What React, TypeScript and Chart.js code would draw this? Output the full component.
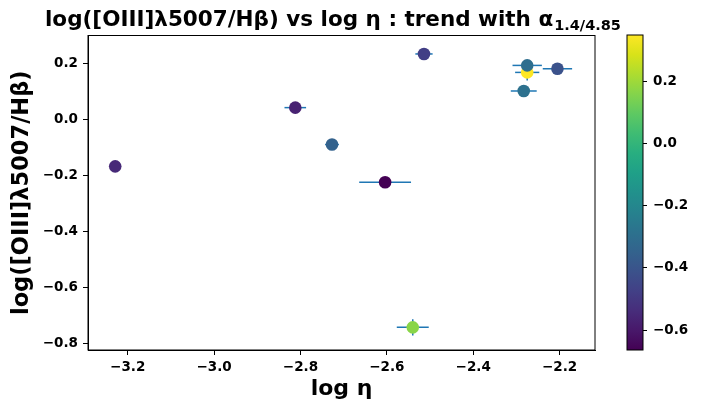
import React, { useEffect, useRef } from "react";
import { Chart, registerables } from "chart.js";
Chart.register(...registerables);

// ---- data ----
const logEta = [-3.229, -2.812, -2.727, -2.514, -2.604, -2.275, -2.275, -2.205, -2.283, -2.540];
const logOIIIHb = [-0.167, 0.043, -0.089, 0.235, -0.224, 0.169, 0.194, 0.182, 0.1025, -0.743];
const logEtaErr = [0.0, 0.025, 0.016, 0.02, 0.06, 0.028, 0.034, 0.034, 0.03, 0.037];
const logOIIIHbErr = [0.0, 0.0, 0.0, 0.0, 0.0, 0.029, 0.0, 0.0, 0.018, 0.029];
const alphaSpec = [-0.55, -0.57, -0.35, -0.48, -0.664, 0.348, -0.30, -0.41, -0.29, 0.166];

const xTicks = [-3.2, -3.0, -2.8, -2.6, -2.4, -2.2];
const yTicks = [-0.8, -0.6, -0.4, -0.2, 0.0, 0.2];
const cbarTicks = [-0.6, -0.4, -0.2, 0.0, 0.2];

const titleMain = "log([OIII]λ5007/Hβ) vs log η : trend with α";
const titleSub = "1.4/4.85";
const xTitle = "log η";
const yTitle = "log([OIII]λ5007/Hβ)";

const viridisStops = [
  "#440154", "#48186a", "#472d7b", "#424086", "#3b528b", "#33638d", "#2c728e", "#26828e",
  "#21918c", "#1fa088", "#28ae80", "#3fbc73", "#5ec962", "#84d44b", "#addc30", "#d8e219", "#fde725",
];

const cMin = Math.min(...alphaSpec);
const cMax = Math.max(...alphaSpec);

function hexToRgb(h: string) {
  return [parseInt(h.slice(1, 3), 16), parseInt(h.slice(3, 5), 16), parseInt(h.slice(5, 7), 16)];
}
function viridis(t: number) {
  t = Math.max(0, Math.min(1, t));
  const p = t * (viridisStops.length - 1);
  const i = Math.min(Math.floor(p), viridisStops.length - 2);
  const f = p - i;
  const a = hexToRgb(viridisStops[i]);
  const b = hexToRgb(viridisStops[i + 1]);
  const c = a.map((v, k) => Math.round(v + (b[k] - v) * f));
  return `rgb(${c[0]},${c[1]},${c[2]})`;
}
const fmt = (v: number) => (v < -1e-9 ? "\u2212" : "") + Math.abs(v).toFixed(1);

const FONT = "DejaVu Sans";

export default function App() {
  const mainRef = useRef<HTMLCanvasElement>(null);
  const cbRef = useRef<HTMLCanvasElement>(null);

  useEffect(() => {
    Chart.defaults.font.family = FONT;
    Chart.defaults.color = "#000";

    const errPlugin = {
      id: "errbars",
      beforeDatasetsDraw(chart: any) {
        const { ctx, scales } = chart;
        const xs = scales.x, ys = scales.y;
        ctx.save();
        ctx.strokeStyle = "#1f77b4";
        ctx.lineWidth = 1.5;
        for (let i = 0; i < logEta.length; i++) {
          const px = xs.getPixelForValue(logEta[i]);
          const py = ys.getPixelForValue(logOIIIHb[i]);
          if (logEtaErr[i] > 0) {
            ctx.beginPath();
            ctx.moveTo(xs.getPixelForValue(logEta[i] - logEtaErr[i]), py);
            ctx.lineTo(xs.getPixelForValue(logEta[i] + logEtaErr[i]), py);
            ctx.stroke();
          }
          if (logOIIIHbErr[i] > 0) {
            ctx.beginPath();
            ctx.moveTo(px, ys.getPixelForValue(logOIIIHb[i] - logOIIIHbErr[i]));
            ctx.lineTo(px, ys.getPixelForValue(logOIIIHb[i] + logOIIIHbErr[i]));
            ctx.stroke();
          }
        }
        ctx.restore();
      },
      afterDraw(chart: any) {
        const { ctx, chartArea: a } = chart;
        ctx.save();
        ctx.strokeStyle = "#000";
        ctx.lineWidth = 1;
        ctx.strokeRect(a.left, a.top, a.right - a.left, a.bottom - a.top);
        // title with subscript
        ctx.fillStyle = "#000";
        ctx.textBaseline = "alphabetic";
        ctx.textAlign = "left";
        ctx.font = `bold 21.5px "${FONT}"`;
        const w = ctx.measureText(titleMain).width;
        const x0 = 45;
        ctx.fillText(titleMain, x0, 26);
        ctx.font = `bold 14.5px "${FONT}"`;
        ctx.fillText(titleSub, x0 + w + 1, 30);
        ctx.restore();
      },
    };

    const main = new Chart(mainRef.current!, {
      type: "scatter",
      data: {
        datasets: [
          {
            data: logEta.map((x, i) => ({ x, y: logOIIIHb[i] })),
            pointBackgroundColor: alphaSpec.map((c) => viridis((c - cMin) / (cMax - cMin))),
            pointBorderWidth: 0,
            pointRadius: 6.3,
            pointHoverRadius: 6.3,
          },
        ],
      },
      options: {
        responsive: false,
        animation: false,
        events: [],
        layout: { padding: { top: 35.5, left: 0, right: 120, bottom: 0 } },
        plugins: { legend: { display: false }, tooltip: { enabled: false }, title: { display: false } },
        scales: {
          x: {
            type: "linear",
            min: -3.292,
            max: -2.118,
            afterBuildTicks: (s: any) => { s.ticks = xTicks.map((v) => ({ value: v })); },
            afterFit: (s: any) => { s.height = 403 - 350; },
            grid: { drawOnChartArea: false, drawTicks: true, tickLength: 5, tickColor: "#000", tickWidth: 1 },
            border: { display: true, color: "#000", width: 1 },
            ticks: { callback: (v: any) => fmt(Number(v)), font: { size: 13.5, weight: "bold" }, color: "#000", padding: 4, maxRotation: 0 },
            title: { display: true, text: xTitle, font: { size: 22, weight: "bold" }, color: "#000", padding: { top: 0, bottom: 1 } },
          },
          y: {
            type: "linear",
            min: -0.824,
            max: 0.301,
            afterBuildTicks: (s: any) => { s.ticks = yTicks.map((v) => ({ value: v })); },
            afterFit: (s: any) => { s.width = 88; },
            grid: { drawOnChartArea: false, drawTicks: true, tickLength: 5, tickColor: "#000", tickWidth: 1 },
            border: { display: true, color: "#000", width: 1 },
            ticks: { callback: (v: any) => fmt(Number(v)), font: { size: 13.5, weight: "bold" }, color: "#000", padding: 5 },
            title: { display: true, text: yTitle, font: { size: 22.5, weight: "bold" }, color: "#000", padding: { top: 9, bottom: 0 } },
          },
        },
      },
      plugins: [errPlugin],
    } as any);

    const cbPlugin = {
      id: "cbar",
      beforeDatasetsDraw(chart: any) {
        const { ctx, chartArea: a } = chart;
        ctx.save();
        const g = ctx.createLinearGradient(0, a.bottom, 0, a.top);
        viridisStops.forEach((c, i) => g.addColorStop(i / (viridisStops.length - 1), c));
        ctx.fillStyle = g;
        ctx.fillRect(a.left, a.top, a.right - a.left, a.bottom - a.top);
        ctx.strokeStyle = "#000";
        ctx.lineWidth = 1;
        ctx.strokeRect(a.left, a.top, a.right - a.left, a.bottom - a.top);
        ctx.restore();
      },
    };

    const cb = new Chart(cbRef.current!, {
      type: "scatter",
      data: { datasets: [{ data: [] }] },
      options: {
        responsive: false,
        animation: false,
        events: [],
        layout: { padding: { top: 35, left: 627, right: 0, bottom: 53 } },
        plugins: { legend: { display: false }, tooltip: { enabled: false } },
        scales: {
          x: { display: false, min: 0, max: 1 },
          y: {
            type: "linear",
            position: "right",
            min: cMin,
            max: cMax,
            afterBuildTicks: (s: any) => { s.ticks = cbarTicks.map((v) => ({ value: v })); },
            afterFit: (s: any) => { s.width = 715 - 643; },
            grid: { drawOnChartArea: false, drawTicks: true, tickLength: 4, tickColor: "#000", tickWidth: 1 },
            border: { display: false },
            ticks: { callback: (v: any) => fmt(Number(v)), font: { size: 13.5, weight: "bold" }, color: "#000", padding: 6 },
          },
        },
      },
      plugins: [cbPlugin],
    } as any);

    return () => {
      main.destroy();
      cb.destroy();
    };
  }, []);

  return (
    <div style={{ position: "fixed", left: 0, top: 0, width: 715, height: 403, background: "#fff" }}>
      <canvas ref={mainRef} width={715} height={403} style={{ position: "absolute", left: 0, top: 0, width: 715, height: 403 }} />
      <canvas ref={cbRef} width={715} height={403} style={{ position: "absolute", left: 0, top: 0, width: 715, height: 403, pointerEvents: "none" }} />
    </div>
  );
}
